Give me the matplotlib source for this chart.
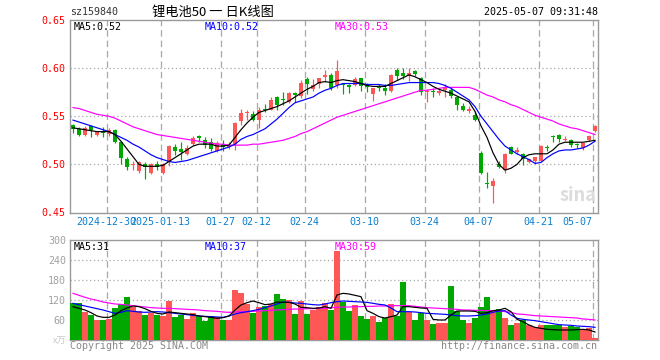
import matplotlib
matplotlib.use('Agg')
import matplotlib.pyplot as plt
import numpy as np

plt.rcParams['font.family'] = ['Noto Sans CJK SC', 'DejaVu Sans']

# ---- 数据 (88 根日K线, 2024-12-20 ~ 2025-05-07) ----
opens = [0.541, 0.537, 0.531, 0.540, 0.531, 0.534, 0.532, 0.536, 0.523, 0.506,
         0.499, 0.493, 0.500, 0.491, 0.500, 0.491, 0.502, 0.518, 0.516, 0.511,
         0.521, 0.529, 0.525, 0.523, 0.514, 0.521, 0.518, 0.521, 0.545, 0.553,
         0.552, 0.546, 0.558, 0.557, 0.570, 0.568, 0.565, 0.574, 0.571, 0.589,
         0.578, 0.583, 0.591, 0.593, 0.582, 0.584, 0.582, 0.582, 0.590, 0.582,
         0.573, 0.581, 0.579, 0.576, 0.598, 0.595, 0.592, 0.597, 0.590, 0.575,
         0.576, 0.574, 0.577, 0.577, 0.570, 0.561, 0.555, 0.551, 0.512, 0.481,
         0.478, 0.500, 0.494, 0.518, 0.513, 0.511, 0.502, 0.504, 0.504, 0.518,
         0.529, 0.530, 0.525, 0.525, 0.521, 0.517, 0.525, 0.535]
highs = [0.542, 0.539, 0.540, 0.541, 0.535, 0.539, 0.538, 0.537, 0.523, 0.508,
         0.504, 0.503, 0.502, 0.501, 0.504, 0.501, 0.520, 0.521, 0.523, 0.520,
         0.530, 0.531, 0.528, 0.527, 0.524, 0.525, 0.523, 0.544, 0.558, 0.557,
         0.555, 0.560, 0.563, 0.570, 0.571, 0.575, 0.575, 0.575, 0.588, 0.591,
         0.589, 0.590, 0.598, 0.595, 0.608, 0.585, 0.584, 0.591, 0.590, 0.585,
         0.579, 0.584, 0.584, 0.594, 0.600, 0.600, 0.600, 0.598, 0.591, 0.578,
         0.579, 0.578, 0.584, 0.579, 0.571, 0.564, 0.561, 0.555, 0.514, 0.492,
         0.486, 0.504, 0.512, 0.519, 0.518, 0.512, 0.506, 0.508, 0.520, 0.520,
         0.531, 0.532, 0.529, 0.526, 0.522, 0.522, 0.531, 0.541]
lows = [0.533, 0.529, 0.529, 0.528, 0.529, 0.528, 0.530, 0.522, 0.500, 0.494,
        0.494, 0.491, 0.485, 0.490, 0.494, 0.490, 0.498, 0.510, 0.505, 0.510,
        0.520, 0.523, 0.517, 0.514, 0.513, 0.514, 0.516, 0.515, 0.541, 0.546,
        0.545, 0.538, 0.554, 0.556, 0.557, 0.562, 0.564, 0.565, 0.569, 0.573,
        0.576, 0.579, 0.586, 0.577, 0.579, 0.573, 0.574, 0.581, 0.576, 0.575,
        0.566, 0.576, 0.572, 0.575, 0.588, 0.589, 0.587, 0.592, 0.572, 0.565,
        0.570, 0.572, 0.570, 0.569, 0.556, 0.555, 0.553, 0.545, 0.490, 0.475,
        0.460, 0.496, 0.491, 0.511, 0.511, 0.499, 0.501, 0.500, 0.503, 0.514,
        0.523, 0.523, 0.524, 0.518, 0.517, 0.515, 0.524, 0.534]
closes = [0.537, 0.531, 0.538, 0.536, 0.534, 0.533, 0.536, 0.523, 0.507, 0.497,
          0.500, 0.502, 0.497, 0.500, 0.497, 0.500, 0.519, 0.514, 0.513, 0.517,
          0.527, 0.527, 0.520, 0.516, 0.522, 0.518, 0.519, 0.543, 0.553, 0.554,
          0.546, 0.557, 0.556, 0.567, 0.562, 0.567, 0.574, 0.572, 0.585, 0.583,
          0.582, 0.590, 0.593, 0.579, 0.597, 0.582, 0.580, 0.589, 0.581, 0.580,
          0.579, 0.579, 0.576, 0.593, 0.592, 0.592, 0.595, 0.594, 0.575, 0.576,
          0.575, 0.576, 0.579, 0.571, 0.562, 0.557, 0.558, 0.546, 0.491, 0.480,
          0.483, 0.497, 0.511, 0.511, 0.515, 0.506, 0.506, 0.508, 0.519, 0.517,
          0.528, 0.526, 0.526, 0.520, 0.520, 0.522, 0.530, 0.540]

ma5 = [0.538, 0.537, 0.536, 0.535, 0.534, 0.534, 0.534, 0.531, 0.524, 0.516,
       0.508, 0.500, 0.498, 0.498, 0.498, 0.499, 0.503, 0.507, 0.511, 0.515,
       0.519, 0.521, 0.521, 0.521, 0.519, 0.519, 0.520, 0.528, 0.536, 0.543,
       0.549, 0.554, 0.556, 0.558, 0.560, 0.563, 0.566, 0.570, 0.574, 0.578,
       0.581, 0.585, 0.586, 0.585, 0.587, 0.588, 0.587, 0.586, 0.584, 0.582,
       0.581, 0.581, 0.581, 0.584, 0.587, 0.590, 0.593, 0.591, 0.588, 0.585,
       0.581, 0.578, 0.576, 0.574, 0.571, 0.568, 0.565, 0.555, 0.540, 0.528,
       0.512, 0.500, 0.494, 0.496, 0.500, 0.507, 0.510, 0.511, 0.511, 0.511,
       0.515, 0.521, 0.523, 0.523, 0.523, 0.523, 0.524, 0.525]
ma10 = [0.546, 0.544, 0.542, 0.540, 0.538, 0.536, 0.534, 0.531, 0.528, 0.525,
        0.521, 0.518, 0.514, 0.510, 0.507, 0.505, 0.503, 0.502, 0.503, 0.504,
        0.506, 0.508, 0.510, 0.512, 0.514, 0.516, 0.518, 0.521, 0.526, 0.529,
        0.531, 0.534, 0.537, 0.542, 0.547, 0.553, 0.559, 0.564, 0.566, 0.568,
        0.570, 0.574, 0.577, 0.579, 0.582, 0.584, 0.584, 0.584, 0.584, 0.583,
        0.583, 0.583, 0.582, 0.582, 0.583, 0.584, 0.585, 0.585, 0.585, 0.585,
        0.585, 0.584, 0.582, 0.579, 0.575, 0.571, 0.567, 0.560, 0.550, 0.542,
        0.534, 0.526, 0.519, 0.515, 0.511, 0.508, 0.505, 0.501, 0.502, 0.507,
        0.511, 0.514, 0.515, 0.515, 0.516, 0.517, 0.520, 0.524]
ma30 = [0.559, 0.558, 0.556, 0.554, 0.552, 0.551, 0.550, 0.548, 0.545, 0.542,
        0.539, 0.537, 0.535, 0.533, 0.531, 0.530, 0.529, 0.528, 0.527, 0.526,
        0.525, 0.524, 0.523, 0.522, 0.521, 0.521, 0.520, 0.520, 0.520, 0.520,
        0.521, 0.521, 0.522, 0.523, 0.524, 0.525, 0.527, 0.529, 0.532, 0.534,
        0.537, 0.540, 0.543, 0.546, 0.549, 0.551, 0.553, 0.555, 0.557, 0.559,
        0.561, 0.563, 0.565, 0.567, 0.569, 0.571, 0.573, 0.575, 0.577, 0.577,
        0.578, 0.579, 0.580, 0.580, 0.580, 0.580, 0.580, 0.578, 0.575, 0.572,
        0.570, 0.567, 0.565, 0.562, 0.560, 0.557, 0.554, 0.551, 0.549, 0.547,
        0.545, 0.542, 0.540, 0.538, 0.537, 0.535, 0.533, 0.531]

# 成交量 (万)
volumes = [110, 110, 84, 75, 60, 60, 63, 96, 107, 129,
           100, 88, 75, 80, 75, 72, 118, 69, 75, 63,
           80, 72, 57, 72, 68, 60, 60, 150, 142, 108,
           82, 98, 102, 108, 138, 123, 120, 79, 117, 79,
           90, 99, 111, 90, 267, 115, 87, 105, 72, 63,
           72, 55, 65, 108, 72, 174, 85, 60, 82, 60,
           48, 52, 52, 162, 87, 60, 52, 67, 99, 129,
           87, 92, 66, 45, 52, 60, 45, 40, 45, 45,
           45, 45, 40, 42, 40, 32, 35, 6]
vol_ma5 = [100, 95, 90, 82, 72, 68, 68, 75, 88, 96,
           102, 100, 94, 86, 80, 78, 84, 82, 80, 78,
           76, 72, 70, 68, 65, 67, 72, 90, 105, 112,
           117, 112, 106, 108, 114, 113, 113, 108, 98, 97,
           95, 96, 100, 95, 135, 140, 138, 134, 130, 88,
           80, 70, 66, 70, 75, 100, 100, 98, 96, 95,
           62, 60, 60, 75, 87, 87, 87, 86, 80, 82,
           88, 90, 95, 85, 62, 55, 45, 38, 35, 32,
           31, 30, 30, 30, 31, 32, 30, 24]
vol_ma10 = [110, 106, 102, 98, 94, 90, 85, 80, 83, 88,
            86, 84, 83, 84, 85, 84, 82, 80, 78, 76,
            74, 72, 71, 70, 69, 68, 72, 78, 82, 85,
            88, 92, 97, 102, 108, 114, 113, 111, 110, 108,
            106, 105, 108, 112, 115, 117, 116, 115, 114, 113,
            110, 107, 105, 96, 85, 85, 85, 84, 82, 80,
            79, 78, 77, 75, 73, 72, 72, 73, 75, 78,
            83, 87, 88, 75, 65, 62, 60, 58, 55, 52,
            49, 46, 45, 44, 42, 41, 40, 38]
vol_ma30 = [140, 134, 128, 123, 119, 114, 111, 108, 107, 105,
            103, 101, 99, 97, 96, 95, 95, 94, 93, 92,
            91, 90, 88, 87, 86, 84, 83, 84, 85, 85,
            86, 87, 88, 89, 90, 91, 92, 93, 93, 94,
            94, 95, 95, 97, 98, 99, 99, 100, 100, 101,
            101, 102, 102, 103, 103, 103, 103, 101, 99, 97,
            96, 95, 94, 93, 92, 90, 90, 89, 89, 88,
            88, 87, 85, 83, 78, 77, 75, 73, 72, 71,
            70, 69, 68, 67, 66, 63, 62, 60]

tick_idx = [6, 15, 25, 31, 39, 49, 59, 68, 78, 87]
tick_labels = ['2024-12-30', '2025-01-13', '01-27', '02-12', '02-24',
               '03-10', '03-24', '04-07', '04-21', '05-07']

# ---- 样式 ----
RED = '#ff5656'
GREEN = '#00a800'
GRID = '#aaaaaa'
FRAME = '#9a9a9a'
MONO = ['DejaVu Sans Mono', 'Noto Sans CJK SC']
FS = 7.2
PX = 0.72  # 1 像素线宽 (pt)

W, H = 660, 360
fig = plt.figure(figsize=(W / 100, H / 100), dpi=100)


def fx(x):
    return x / W


def fy(y):
    return 1 - y / H


ax = fig.add_axes([fx(70), fy(212.5), 528 / W, 192.5 / H])
axv = fig.add_axes([fx(70), fy(340), 528 / W, 100 / H])

n = len(closes)
idx = np.arange(n)
colors = [RED if c >= o else GREEN for o, c in zip(opens, closes)]
grid_x = np.array(tick_idx) - 0.4

# K线
for i in range(n):
    ax.vlines(i, lows[i], highs[i], color=colors[i], lw=PX * 1.2, zorder=3)
    lo = min(opens[i], closes[i])
    h = max(abs(closes[i] - opens[i]), 0.0011)
    ax.bar(i, h, bottom=lo, width=0.72, color=colors[i], lw=0, zorder=4)

ax.plot(idx, ma30, color='#ff00ff', lw=PX * 1.2, zorder=5)
ax.plot(idx, ma10, color='#0000ff', lw=PX * 1.2, zorder=5)
ax.plot(idx, ma5, color='black', lw=PX * 1.2, zorder=6)

ax.set_xlim(-0.5, n - 0.5)
ax.set_ylim(0.45, 0.65)
for y in [0.50, 0.55, 0.60]:
    ax.axhline(y, color=GRID, lw=PX * 1.3, linestyle=(0, (1, 2)), zorder=1)
for x in grid_x:
    ax.axvline(x, color=GRID, lw=PX * 1.3, linestyle=(0, (5, 3)), zorder=1)

ax.set_yticks([0.45, 0.50, 0.55, 0.60, 0.65])
ax.set_yticklabels(['0.45', '0.50', '0.55', '0.60', '0.65'],
                   color='#ff0000', fontsize=FS, family=MONO)
ax.set_xticks(grid_x)
ax.set_xticklabels(tick_labels, color='#0a7fd0', fontsize=FS, family=MONO)
ax.get_xticklabels()[-1].set_horizontalalignment('right')
ax.tick_params(axis='both', length=0, pad=3)

# 成交量
axv.bar(idx, volumes, width=0.84, color=colors, lw=0, zorder=3)
axv.plot(idx, vol_ma30, color='#ff00ff', lw=PX * 1.2, zorder=5)
axv.plot(idx, vol_ma10, color='#0000ff', lw=PX * 1.2, zorder=5)
axv.plot(idx, vol_ma5, color='black', lw=PX * 1.2, zorder=6)
axv.set_xlim(-0.5, n - 0.5)
axv.set_ylim(0, 300)
for y in [60, 120, 180, 240]:
    axv.axhline(y, color=GRID, lw=PX * 1.3, linestyle=(0, (1, 2)), zorder=1)
for x in grid_x:
    axv.axvline(x, color=GRID, lw=PX * 1.3, linestyle=(0, (5, 3)), zorder=1)
axv.set_yticks([60, 120, 180, 240, 300])
axv.set_yticklabels(['60', '120', '180', '240', '300'],
                    color='#a0a0a0', fontsize=FS, family=MONO)
axv.set_xticks([])
axv.tick_params(axis='y', length=0, pad=3)

for a in (ax, axv):
    for s in a.spines.values():
        s.set_color(FRAME)
        s.set_linewidth(1.0)

# 文字
fig.text(fx(70), fy(12), 'sz159840', fontsize=FS, family=MONO,
         color='#333333', ha='left', va='center')
fig.text(fx(213), fy(12), '锂电池50 一 日K线图', fontsize=9.5,
         color='black', ha='center', va='center')
fig.text(fx(598), fy(12), '2025-05-07 09:31:48', fontsize=FS, family=MONO,
         color='black', ha='right', va='center')

fig.text(fx(74), fy(27), 'MA5:0.52', fontsize=FS, family=MONO,
         color='black', ha='left', va='center')
fig.text(fx(205), fy(27), 'MA10:0.52', fontsize=FS, family=MONO,
         color='#0000ff', ha='left', va='center')
fig.text(fx(335), fy(27), 'MA30:0.53', fontsize=FS, family=MONO,
         color='#ff00ff', ha='left', va='center')

fig.text(fx(74), fy(247), 'MA5:31', fontsize=FS, family=MONO,
         color='black', ha='left', va='center')
fig.text(fx(205), fy(247), 'MA10:37', fontsize=FS, family=MONO,
         color='#0000ff', ha='left', va='center')
fig.text(fx(335), fy(247), 'MA30:59', fontsize=FS, family=MONO,
         color='#ff00ff', ha='left', va='center')

fig.text(fx(66), fy(341), 'x万', fontsize=6.5, color='#c8c8c8',
         ha='right', va='center')
fig.text(fx(70), fy(346), 'Copyright 2025 SINA.COM', fontsize=FS,
         family=MONO, color='#888888', ha='left', va='center')
fig.text(fx(597), fy(346), 'http://finance.sina.com.cn', fontsize=FS,
         family=MONO, color='#888888', ha='right', va='center')

# 水印
fig.text(fx(596), fy(196), 'sina', fontsize=13, fontweight='bold',
         style='italic', color='#dcdcdc', ha='right', va='center', zorder=0)

fig.savefig('out.png', dpi=100)
